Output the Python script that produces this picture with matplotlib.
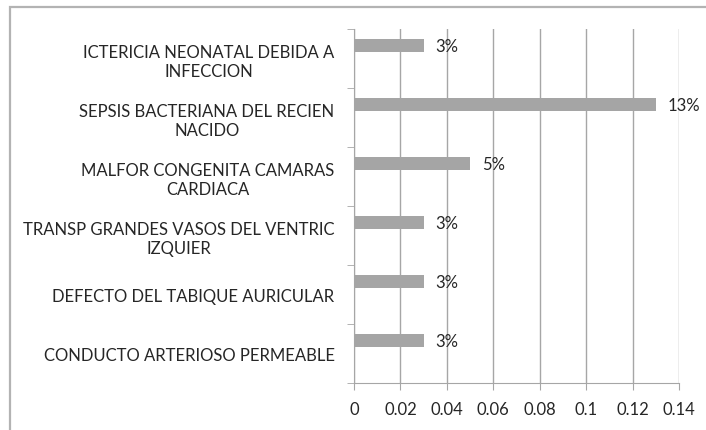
import numpy as np
import matplotlib.pyplot as plt
from matplotlib.patches import Rectangle

# data (bottom to top, as drawn)
categorias = [
    "CONDUCTO ARTERIOSO PERMEABLE",
    "DEFECTO DEL TABIQUE AURICULAR",
    "TRANSP GRANDES VASOS DEL VENTRIC\nIZQUIER",
    "MALFOR CONGENITA CAMARAS\nCARDIACA",
    "SEPSIS BACTERIANA DEL RECIEN\nNACIDO",
    "ICTERICIA NEONATAL DEBIDA A\nINFECCION",
]
valores = [0.03, 0.03, 0.03, 0.05, 0.13, 0.03]
etiquetas = ["3%", "3%", "3%", "5%", "13%", "3%"]
xticks = [0, 0.02, 0.04, 0.06, 0.08, 0.1, 0.12, 0.14]
xtick_labels = ["0", "0.02", "0.04", "0.06", "0.08", "0.1", "0.12", "0.14"]

plt.rcParams["font.family"] = ["Lato", "DejaVu Sans"]
color_texto = "#262626"
color_linea = "#A6A6A6"
tam = 12

fig = plt.figure(figsize=(7.06, 4.31), dpi=100)
ax = fig.add_axes([0.5014, 0.109, 0.4604, 0.8214])

# borde del grafico
fig.patches.append(Rectangle((10 / 706, -0.1), 1.2, 1 - 8 / 431 + 0.1,
                             transform=fig.transFigure, fill=False,
                             edgecolor="#B3B3B3", linewidth=1.6))

y = np.arange(len(categorias))
desplaz = 0.22
ax.barh(y + desplaz, valores, height=0.21, color="#A5A5A5", zorder=3)

for yi, v, t in zip(y, valores, etiquetas):
    ax.text(v + 0.005, yi + desplaz, t, va="center", ha="left",
            fontsize=tam, color=color_texto, clip_on=False)

ax.set_xlim(0, 0.14)
ax.set_ylim(-0.5, len(categorias) - 0.5)
ax.set_xticks(xticks)
ax.set_xticklabels(xtick_labels, fontsize=tam, color=color_texto)
ax.grid(axis="x", color=color_linea, linewidth=1, zorder=0)

ax.set_yticks(y)
ax.set_yticks(np.arange(-0.5, len(categorias)), minor=True)
ax.tick_params(axis="y", which="major", length=0, pad=14)
ax.tick_params(axis="y", which="minor", length=5, color=color_linea, direction="out")
ax.tick_params(axis="x", length=5, color=color_linea, pad=8)

# etiquetas de categoria, centradas linea por linea
ax.set_yticklabels(categorias, fontsize=tam, color=color_texto)
for tick in ax.yaxis.get_major_ticks():
    tick.label1.set_multialignment("center")

for s in ["top", "right"]:
    ax.spines[s].set_visible(False)
for s in ["left", "bottom"]:
    ax.spines[s].set_color(color_linea)

fig.savefig("out.png", dpi=100)
